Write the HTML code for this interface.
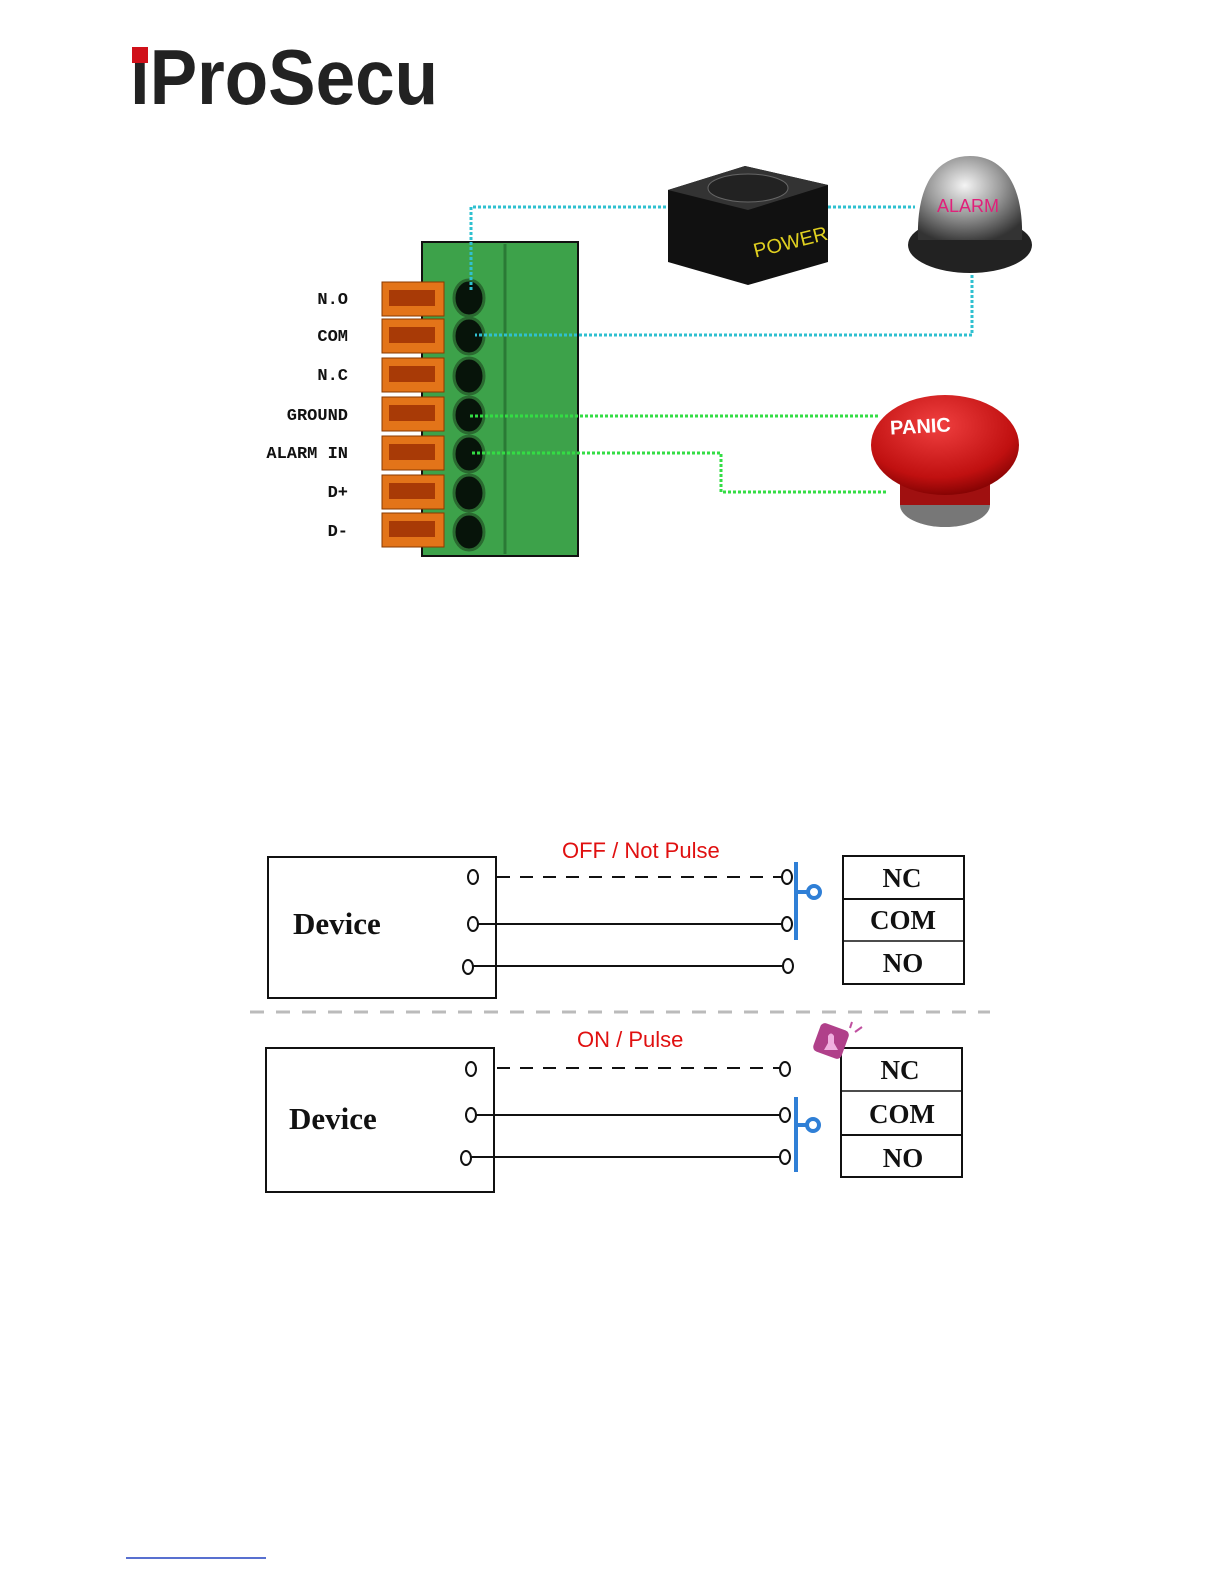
<!DOCTYPE html>
<html><head><style>html,body{margin:0;padding:0;background:#fff;overflow:hidden;width:1224px;height:1584px}svg{display:block}</style></head><body>
<svg width="1224" height="1584" viewBox="0 0 1224 1584" xmlns="http://www.w3.org/2000/svg">
<defs>
<radialGradient id="bell" cx="0.45" cy="0.35" r="0.7"><stop offset="0" stop-color="#f4f4f4"/><stop offset="0.5" stop-color="#9a9a9a"/><stop offset="1" stop-color="#333"/></radialGradient>
<radialGradient id="pan" cx="0.45" cy="0.3" r="0.75"><stop offset="0" stop-color="#f04040"/><stop offset="0.7" stop-color="#c01010"/><stop offset="1" stop-color="#700"/></radialGradient>
</defs>
<!-- logo -->
<text x="130" y="104" font-family="Liberation Sans, sans-serif" font-weight="bold" font-size="78" fill="#222" textLength="308" lengthAdjust="spacingAndGlyphs">iProSecu</text>
<rect x="132" y="47" width="16" height="16" fill="#d0101a"/>
<!-- terminal block -->
<rect x="422" y="242" width="156" height="314" fill="#3da24a" stroke="#111" stroke-width="2"/>
<line x1="505" y1="244" x2="505" y2="554" stroke="#2a7a35" stroke-width="3"/>
<g fill="#e37419" stroke="#8a3a00" stroke-width="1">
<rect x="382" y="282" width="62" height="34"/><rect x="382" y="319" width="62" height="34"/><rect x="382" y="358" width="62" height="34"/><rect x="382" y="397" width="62" height="34"/><rect x="382" y="436" width="62" height="34"/><rect x="382" y="475" width="62" height="34"/><rect x="382" y="513" width="62" height="34"/>
</g>
<g fill="#a83a06">
<rect x="389" y="290" width="46" height="16"/><rect x="389" y="327" width="46" height="16"/><rect x="389" y="366" width="46" height="16"/><rect x="389" y="405" width="46" height="16"/><rect x="389" y="444" width="46" height="16"/><rect x="389" y="483" width="46" height="16"/><rect x="389" y="521" width="46" height="16"/>
</g>
<g fill="#07140a" stroke="#2a6a30" stroke-width="3">
<ellipse cx="469" cy="298" rx="15" ry="18"/><ellipse cx="469" cy="336" rx="15" ry="18"/><ellipse cx="469" cy="376" rx="15" ry="18"/><ellipse cx="469" cy="415" rx="15" ry="18"/><ellipse cx="469" cy="454" rx="15" ry="18"/><ellipse cx="469" cy="493" rx="15" ry="18"/><ellipse cx="469" cy="532" rx="15" ry="18"/>
</g>
<g font-family="Liberation Mono, monospace" font-weight="bold" font-size="17" fill="#111" text-anchor="end">
<text x="348" y="304">N.O</text><text x="348" y="341">COM</text><text x="348" y="380">N.C</text><text x="348" y="420">GROUND</text><text x="348" y="458">ALARM IN</text><text x="348" y="497">D+</text><text x="348" y="536">D-</text>
</g>
<!-- cyan wires -->
<g fill="none" stroke="#2fc0d0" stroke-width="3" stroke-dasharray="3,2">
<polyline points="471,290 471,207 668,207"/><polyline points="828,207 915,207"/><polyline points="972,275 972,335 475,335"/>
</g>
<g fill="none" stroke="#33dd44" stroke-width="3" stroke-dasharray="3,2">
<polyline points="470,416 880,416"/><polyline points="472,453 721,453 721,492 886,492"/>
</g>
<!-- power -->
<polygon points="668,190 745,166 828,185 828,262 748,285 668,262" fill="#111"/>
<polygon points="668,190 745,166 828,185 748,210" fill="#333"/>
<ellipse cx="748" cy="188" rx="40" ry="14" fill="#222" stroke="#666"/>
<text x="752" y="250" font-family="Liberation Sans, sans-serif" font-size="20" fill="#e0d020" transform="rotate(-14 785 240)">POWER</text>
<!-- bell -->
<ellipse cx="970" cy="245" rx="62" ry="28" fill="#222"/>
<path d="M918,240 C916,180 940,156 970,156 C1000,156 1024,180 1022,240 Z" fill="url(#bell)"/>
<text x="937" y="212" font-family="Liberation Sans, sans-serif" font-size="18" fill="#e0207a">ALARM</text>
<!-- panic -->
<ellipse cx="945" cy="505" rx="45" ry="22" fill="#777"/>
<rect x="900" y="470" width="90" height="35" fill="#a01010"/>
<ellipse cx="945" cy="445" rx="74" ry="50" fill="url(#pan)"/>
<text x="890" y="432" font-family="Liberation Sans, sans-serif" font-weight="bold" font-size="20" fill="#fff" transform="rotate(-3 940 425)">PANIC</text>
<!-- diagram 1 -->
<g font-family="Liberation Serif, serif" font-weight="bold" fill="#111">
<rect x="268" y="857" width="228" height="141" fill="none" stroke="#111" stroke-width="2"/>
<text x="293" y="934" font-size="31">Device</text>
<rect x="843" y="856" width="121" height="128" fill="none" stroke="#111" stroke-width="2"/>
<line x1="843" y1="899" x2="964" y2="899" stroke="#111" stroke-width="2"/><line x1="843" y1="941" x2="964" y2="941" stroke="#111" stroke-width="1.5"/>
<g font-size="27" text-anchor="middle"><text x="902" y="887">NC</text><text x="903" y="929">COM</text><text x="903" y="972">NO</text></g>
<rect x="266" y="1048" width="228" height="144" fill="none" stroke="#111" stroke-width="2"/>
<text x="289" y="1129" font-size="31">Device</text>
<rect x="841" y="1048" width="121" height="129" fill="none" stroke="#111" stroke-width="2"/>
<line x1="841" y1="1091" x2="962" y2="1091" stroke="#111" stroke-width="1.5"/><line x1="841" y1="1135" x2="962" y2="1135" stroke="#111" stroke-width="2"/>
<g font-size="27" text-anchor="middle"><text x="900" y="1079">NC</text><text x="902" y="1123">COM</text><text x="903" y="1167">NO</text></g>
</g>
<g stroke="#111" stroke-width="2" fill="none">
<line x1="497" y1="877" x2="783" y2="877" stroke-dasharray="13,10"/>
<line x1="478" y1="924" x2="783" y2="924"/><line x1="473" y1="966" x2="783" y2="966"/>
<ellipse cx="473" cy="877" rx="5" ry="7" fill="#fff"/><ellipse cx="473" cy="924" rx="5" ry="7" fill="#fff"/><ellipse cx="468" cy="967" rx="5" ry="7" fill="#fff"/>
<ellipse cx="787" cy="877" rx="5" ry="7" fill="#fff"/><ellipse cx="787" cy="924" rx="5" ry="7" fill="#fff"/><ellipse cx="788" cy="966" rx="5" ry="7" fill="#fff"/>
<line x1="497" y1="1068" x2="781" y2="1068" stroke-dasharray="13,10"/>
<line x1="476" y1="1115" x2="781" y2="1115"/><line x1="471" y1="1157" x2="781" y2="1157"/>
<ellipse cx="471" cy="1069" rx="5" ry="7" fill="#fff"/><ellipse cx="471" cy="1115" rx="5" ry="7" fill="#fff"/><ellipse cx="466" cy="1158" rx="5" ry="7" fill="#fff"/>
<ellipse cx="785" cy="1069" rx="5" ry="7" fill="#fff"/><ellipse cx="785" cy="1115" rx="5" ry="7" fill="#fff"/><ellipse cx="785" cy="1157" rx="5" ry="7" fill="#fff"/>
</g>
<g stroke="#2f7fd6" stroke-width="4" fill="none">
<line x1="796" y1="862" x2="796" y2="940"/><line x1="796" y1="892" x2="808" y2="892"/><circle cx="814" cy="892" r="6" fill="#fff"/>
<line x1="796" y1="1097" x2="796" y2="1172"/><line x1="796" y1="1125" x2="807" y2="1125"/><circle cx="813" cy="1125" r="6" fill="#fff"/>
</g>
<g font-family="Liberation Sans, sans-serif" font-size="22" fill="#e01010">
<text x="562" y="858">OFF / Not Pulse</text><text x="577" y="1047">ON / Pulse</text>
</g>
<line x1="250" y1="1012" x2="990" y2="1012" stroke="#bbb" stroke-width="3" stroke-dasharray="14,12"/>
<!-- bell icon -->
<rect x="816" y="1026" width="30" height="30" rx="5" fill="#b0408a" transform="rotate(20 831 1041)"/>
<path d="M824,1050 L838,1050 L834,1043 L834,1036 Q831,1031 828,1036 L828,1043 Z" fill="#f0b0e0"/>
<g stroke="#c050a0" stroke-width="2"><line x1="850" y1="1028" x2="852" y2="1022"/><line x1="855" y1="1032" x2="862" y2="1027"/></g>
<line x1="126" y1="1558" x2="266" y2="1558" stroke="#2040c0" stroke-width="1.5"/>
</svg>
</body></html>
